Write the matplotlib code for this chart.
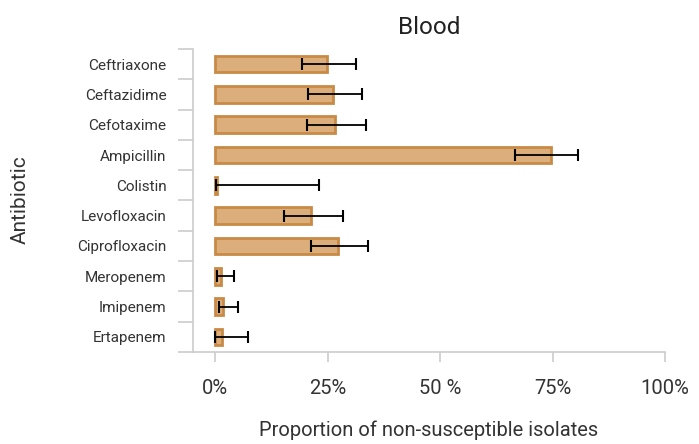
import numpy as np
import matplotlib
matplotlib.use("Agg")
import matplotlib.pyplot as plt
from matplotlib.ticker import FixedLocator

antibiotics = ['Ceftriaxone', 'Ceftazidime', 'Cefotaxime', 'Ampicillin', 'Colistin',
               'Levofloxacin', 'Ciprofloxacin', 'Meropenem', 'Imipenem', 'Ertapenem']
proportion = [24.8, 26.2, 26.7, 74.7, 0.5, 21.3, 27.3, 1.3, 1.8, 1.6]
ci_low = [19.3, 20.7, 20.4, 66.7, 0.2, 15.3, 21.3, 0.4, 0.9, 0.1]
ci_high = [31.3, 32.7, 33.6, 80.7, 23.1, 28.4, 34.0, 4.3, 5.1, 7.4]
xtick_values = [0, 25, 50, 75, 100]
xtick_labels = ['0%', '25%', '50 %', '75%', '100%']

plt.rcParams['font.family'] = ['Roboto', 'DejaVu Sans']
text_col = '#333333'
axis_col = '#cccccc'

fig = plt.figure(figsize=(6.99, 4.44), dpi=100)
ax = fig.add_axes([193 / 699, 1 - 352 / 444, (665 - 193) / 699, (352 - 49) / 444])

y = np.arange(len(antibiotics))
vals = np.array(proportion)
xerr = [vals - np.array(ci_low), np.array(ci_high) - vals]
ax.barh(y, vals, height=0.55, color='#dcae7c', edgecolor='#c98a45', linewidth=2)
ax.errorbar(vals, y, xerr=xerr, fmt='none', ecolor='black', elinewidth=1.3,
            capsize=4, capthick=1.5)

ax.set_xlim(-4.9, 100)
ax.set_ylim(len(antibiotics) - 0.5, -0.5)

ax.set_yticks(y)
ax.set_yticklabels(antibiotics)
ax.yaxis.set_minor_locator(FixedLocator(np.arange(-0.5, len(antibiotics), 1.0)))
ax.tick_params(axis='y', which='major', length=0, pad=19, labelsize=11, labelcolor=text_col)
ax.tick_params(axis='y', which='minor', length=11, width=1.2, color=axis_col)

ax.set_xticks(xtick_values)
ax.set_xticklabels(xtick_labels)
ax.tick_params(axis='x', length=7.5, width=1.2, color=axis_col, pad=12,
               labelsize=14.5, labelcolor=text_col)

for side in ['top', 'right']:
    ax.spines[side].set_visible(False)
for side in ['left', 'bottom']:
    ax.spines[side].set_color(axis_col)
    ax.spines[side].set_linewidth(1.2)

ax.set_title('Blood', fontsize=17.5, color='#222222', pad=11)
ax.set_xlabel('Proportion of non-susceptible isolates', fontsize=14.5, color=text_col, labelpad=16)
fig.text(20 / 699, 1 - 200 / 444, 'Antibiotic', rotation=90, fontsize=15,
         color=text_col, ha='center', va='center')

fig.savefig('out.png', dpi=100)
